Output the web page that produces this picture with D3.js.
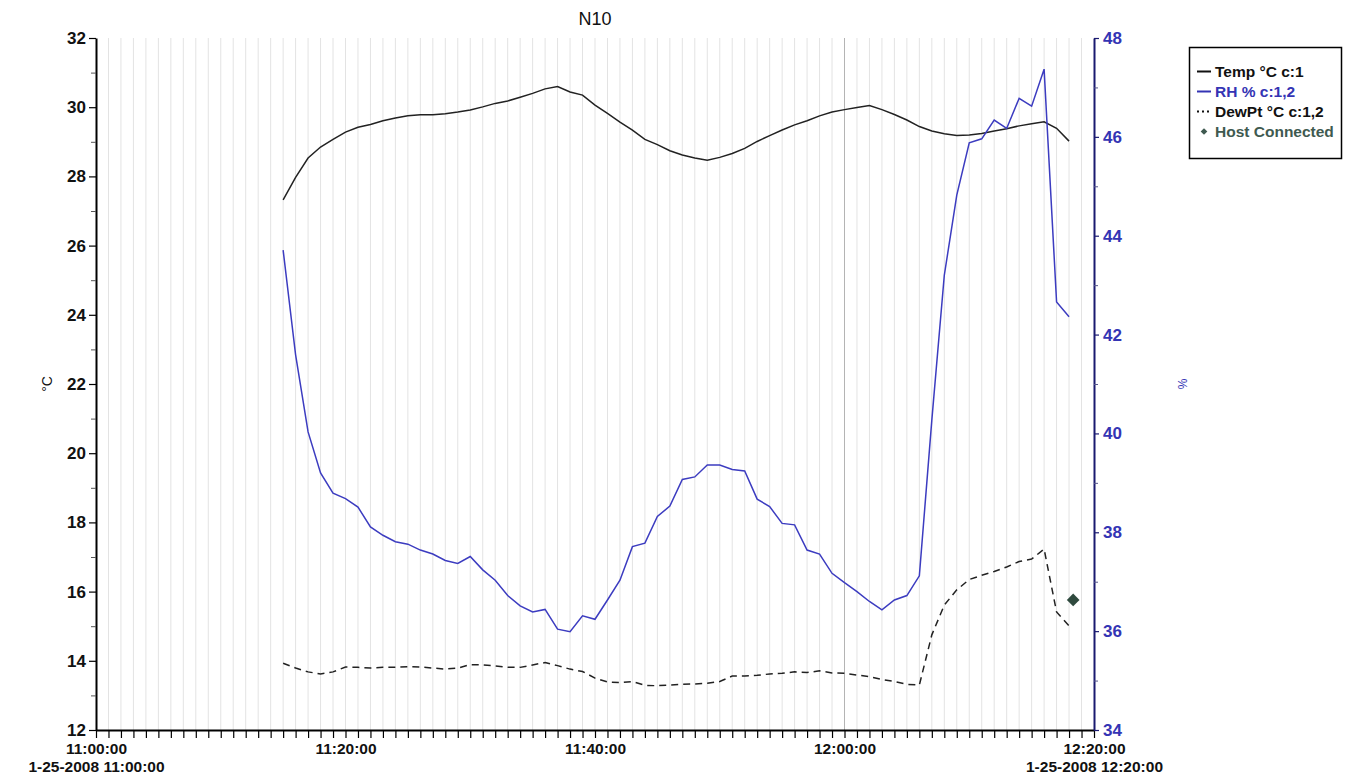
<!DOCTYPE html>
<html>
<head>
<meta charset="utf-8">
<script src="https://cdn.jsdelivr.net/npm/d3@7"></script>
<style>
  body { margin: 0; background: #fff; }
  text { font-family: Arial, "Liberation Sans", sans-serif; }
</style>
</head>
<body>
<script>
// logger samples, one per minute, minutes after 11:00:00
var sampleMinutes = d3.range(15, 79);

var tempC = [
  27.32, 27.97, 28.53, 28.85, 29.07, 29.28, 29.42, 29.50, 29.61, 29.69,
  29.75, 29.78, 29.78, 29.81, 29.86, 29.92, 30.01, 30.11, 30.18, 30.29,
  30.40, 30.53, 30.60, 30.44, 30.35, 30.06, 29.82, 29.57, 29.34, 29.07,
  28.92, 28.74, 28.62, 28.53, 28.47, 28.55, 28.66, 28.81, 29.01, 29.18,
  29.34, 29.49, 29.61, 29.75, 29.86, 29.93, 29.99, 30.05, 29.93, 29.79,
  29.63, 29.44, 29.31, 29.23, 29.18, 29.20, 29.24, 29.31, 29.38, 29.46,
  29.52, 29.58, 29.39, 29.02
];

var rhPct = [
  43.71, 41.59, 40.03, 39.20, 38.79, 38.68, 38.51, 38.11, 37.94, 37.81,
  37.76, 37.64, 37.56, 37.43, 37.37, 37.51, 37.24, 37.03, 36.72, 36.51,
  36.39, 36.44, 36.04, 35.99, 36.31, 36.24, 36.63, 37.03, 37.71, 37.78,
  38.32, 38.53, 39.07, 39.12, 39.36, 39.36, 39.27, 39.24, 38.67, 38.52,
  38.18, 38.15, 37.64, 37.56, 37.17, 36.98, 36.80, 36.60, 36.43, 36.63,
  36.72, 37.12, 40.27, 43.20, 44.82, 45.88, 45.96, 46.34, 46.17, 46.78,
  46.62, 47.37, 42.66, 42.36
];

var dewPtC = [
  13.93, 13.79, 13.68, 13.62, 13.68, 13.82, 13.81, 13.79, 13.81, 13.81,
  13.83, 13.82, 13.79, 13.76, 13.79, 13.89, 13.88, 13.85, 13.81, 13.81,
  13.88, 13.95, 13.86, 13.76, 13.69, 13.50, 13.39, 13.37, 13.40, 13.29,
  13.28, 13.30, 13.32, 13.33, 13.35, 13.40, 13.56, 13.56, 13.58, 13.62,
  13.64, 13.68, 13.66, 13.71, 13.65, 13.64, 13.59, 13.54, 13.46, 13.40,
  13.32, 13.30, 14.75, 15.61, 16.05, 16.35, 16.47, 16.58, 16.71, 16.87,
  16.94, 17.23, 15.41, 15.01
];

// "Host Connected" event marker
var hostMinute = [78.33];
var hostValue = [15.76];

var leftTicks = [12, 14, 16, 18, 20, 22, 24, 26, 28, 30, 32];
var leftMinor = [13, 15, 17, 19, 21, 23, 25, 27, 29, 31];
var rightTicks = [34, 36, 38, 40, 42, 44, 46, 48];
var rightMinor = [35, 37, 39, 41, 43, 45, 47];
var labelMinutes = [0, 20, 40, 60, 80];

var legendNames = ["Temp °C c:1", "RH % c:1,2", "DewPt °C c:1,2", "Host Connected"];

var W = 1348, H = 776;
var plot = {left: 96, right: 1094, top: 38, bottom: 730};

var t0 = new Date(2008, 0, 25, 11, 0, 0);
var t1 = new Date(2008, 0, 25, 12, 20, 0);
function atMinute(m) { return new Date(t0.getTime() + m * 60000); }

var x = d3.scaleTime().domain([t0, t1]).range([plot.left, plot.right]);
var yL = d3.scaleLinear().domain([12, 32]).range([plot.bottom, plot.top]);
var yR = d3.scaleLinear().domain([34, 48]).range([plot.bottom, plot.top]);

var svg = d3.select("body").append("svg")
    .attr("width", W)
    .attr("height", H);

svg.append("rect").attr("width", W).attr("height", H).attr("fill", "#fff");

// vertical grid, one per minute
var gridMinutes = d3.range(1, 80);
svg.append("g").selectAll("line")
    .data(gridMinutes)
  .enter().append("line")
    .attr("x1", function(d) { return x(atMinute(d)); })
    .attr("x2", function(d) { return x(atMinute(d)); })
    .attr("y1", plot.top)
    .attr("y2", plot.bottom)
    .attr("stroke", function(d) { return d == 60 ? "#b4b4b4" : "#e3e3e3"; })
    .attr("stroke-width", 1);

// title
svg.append("text")
    .attr("x", (plot.left + plot.right) / 2)
    .attr("y", 25)
    .attr("text-anchor", "middle")
    .style("font-size", "18px")
    .style("fill", "#111")
    .text("N10");

// series
var rows = sampleMinutes.map(function(m, i) {
  return {t: atMinute(m), temp: tempC[i], rh: rhPct[i], dew: dewPtC[i]};
});

var tempLine = d3.line()
    .x(function(d) { return x(d.t); })
    .y(function(d) { return yL(d.temp); });
var rhLine = d3.line()
    .x(function(d) { return x(d.t); })
    .y(function(d) { return yR(d.rh); });
var dewLine = d3.line()
    .x(function(d) { return x(d.t); })
    .y(function(d) { return yL(d.dew); });

svg.append("path")
    .attr("d", dewLine(rows))
    .attr("fill", "none")
    .attr("stroke", "#222")
    .attr("stroke-width", 1.5)
    .attr("stroke-dasharray", "7,5");

svg.append("path")
    .attr("d", tempLine(rows))
    .attr("fill", "none")
    .attr("stroke", "#222")
    .attr("stroke-width", 1.5);

svg.append("path")
    .attr("d", rhLine(rows))
    .attr("fill", "none")
    .attr("stroke", "#3c3cc0")
    .attr("stroke-width", 1.5);

svg.selectAll(".host")
    .data(hostMinute)
  .enter().append("path")
    .attr("class", "host")
    .attr("transform", function(d, i) {
      return "translate(" + x(atMinute(d)) + "," + yL(hostValue[i]) + ") rotate(45)";
    })
    .attr("d", d3.symbol().type(d3.symbolSquare).size(80))
    .attr("fill", "#2f4a3e");

// bottom axis
var xAxis = svg.append("g")
    .attr("transform", "translate(0," + plot.bottom + ")")
    .call(d3.axisBottom(x)
      .tickValues(d3.range(0, 81).map(atMinute))
      .tickSize(8)
      .tickPadding(5)
      .tickSizeOuter(0)
      .tickFormat(function(d) {
        var m = (d - t0) / 60000;
        return labelMinutes.indexOf(m) >= 0 ? d3.timeFormat("%H:%M:%S")(d) : "";
      }));
xAxis.select(".domain").attr("stroke", "#000").attr("stroke-width", 2);
xAxis.selectAll(".tick line").attr("stroke", "#000").attr("stroke-width", 1.2);
xAxis.selectAll("text")
    .style("font-size", "15.5px")
    .style("font-weight", "bold")
    .style("fill", "#111");
xAxis.selectAll(".tick text").each(function(d) {
  var m = (d - t0) / 60000;
  if (m == 0 || m == 80) {
    d3.select(this).append("tspan")
        .attr("x", 0)
        .attr("dy", "1.15em")
        .text(d3.timeFormat("%-m-%d-%Y %H:%M:%S")(d));
  }
});

// left axis
var lAxis = svg.append("g")
    .attr("transform", "translate(" + plot.left + ",0)")
    .call(d3.axisLeft(yL).tickValues(leftTicks).tickSize(7).tickPadding(3).tickSizeOuter(0));
lAxis.select(".domain").attr("stroke", "#000").attr("stroke-width", 2);
lAxis.selectAll(".tick line").attr("stroke", "#000").attr("stroke-width", 1.2);
lAxis.selectAll("text").style("font-size", "17px").style("font-weight", "bold").style("fill", "#111");

svg.append("g")
    .attr("transform", "translate(" + plot.left + ",0)")
    .call(d3.axisLeft(yL).tickValues(leftMinor).tickSize(5).tickFormat(""))
    .call(function(g) { g.select(".domain").remove(); })
    .selectAll(".tick line").attr("stroke", "#555");

// right axis
var rAxis = svg.append("g")
    .attr("transform", "translate(" + plot.right + ",0)")
    .call(d3.axisRight(yR).tickValues(rightTicks).tickSize(5).tickPadding(4).tickSizeOuter(0));
rAxis.select(".domain").attr("stroke", "#1a1a70").attr("stroke-width", 2);
rAxis.selectAll(".tick line").attr("stroke", "#1a1a70").attr("stroke-width", 1.2);
rAxis.selectAll("text").style("font-size", "17px").style("font-weight", "bold").style("fill", "#3434b4");

svg.append("g")
    .attr("transform", "translate(" + plot.right + ",0)")
    .call(d3.axisRight(yR).tickValues(rightMinor).tickSize(4).tickFormat(""))
    .call(function(g) { g.select(".domain").remove(); })
    .selectAll(".tick line").attr("stroke", "#55558a");

// axis titles
svg.append("text")
    .attr("transform", "translate(52," + (plot.top + plot.bottom) / 2 + ") rotate(-90)")
    .attr("text-anchor", "middle")
    .style("font-size", "14px")
    .style("fill", "#111")
    .text("°C");

svg.append("text")
    .attr("transform", "translate(1187," + (plot.top + plot.bottom) / 2 + ") rotate(-90)")
    .attr("text-anchor", "middle")
    .style("font-size", "12px")
    .style("fill", "#3434b4")
    .text("%");

// legend
var legend = svg.append("g").attr("transform", "translate(1189,47)");
legend.append("rect")
    .attr("x", 0.5).attr("y", 0.5)
    .attr("width", 152).attr("height", 111)
    .attr("fill", "#fff")
    .attr("stroke", "#000")
    .attr("stroke-width", 1.5);

var legendColors = ["#111", "#3434b4", "#111", "#3f5a50"];
var items = legend.selectAll(".item")
    .data(legendNames)
  .enter().append("g")
    .attr("class", "item")
    .attr("transform", function(d, i) { return "translate(0," + (30 + i * 20) + ")"; });

items.append("text")
    .attr("x", 26)
    .attr("y", 0)
    .style("font-size", "15.5px")
    .style("font-weight", "bold")
    .style("fill", function(d, i) { return legendColors[i]; })
    .text(function(d) { return d; });

items.filter(function(d, i) { return i < 3; }).append("line")
    .attr("x1", 8).attr("x2", 22)
    .attr("y1", -5.5).attr("y2", -5.5)
    .attr("stroke", function(d, i) { return i == 1 ? "#3434b4" : "#111"; })
    .attr("stroke-width", 2)
    .attr("stroke-dasharray", function(d, i) { return i == 2 ? "2,3" : null; });

items.filter(function(d, i) { return i == 3; }).append("path")
    .attr("transform", "translate(15,-5.5) rotate(45)")
    .attr("d", d3.symbol().type(d3.symbolSquare).size(22))
    .attr("fill", "#3f5a50");
</script>
</body>
</html>
